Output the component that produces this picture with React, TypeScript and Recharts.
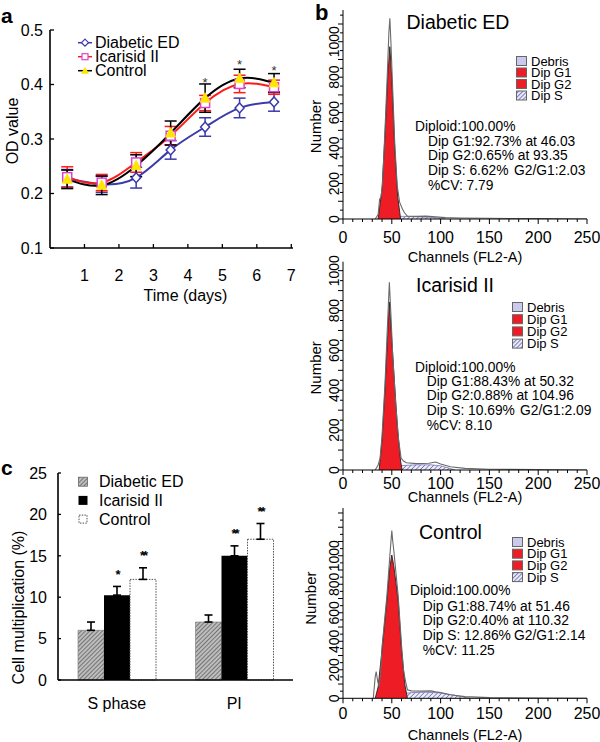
import React from 'react';
import { LineChart, Line, XAxis, YAxis, ErrorBar, Legend, ComposedChart, Area, BarChart, Bar, LabelList } from 'recharts';

const FONT = 'Arial, "Liberation Sans", Helvetica, sans-serif';

// ---------------- Panel a : OD value over time ----------------
const days = [0.5, 1.5, 2.5, 3.5, 4.5, 5.5, 6.5];
const dayTicks = [1, 2, 3, 4, 5, 6, 7];
const odTicks = [0.1, 0.2, 0.3, 0.4, 0.5];
const dedOD = [0.228, 0.217, 0.229, 0.28, 0.322, 0.357, 0.368];
const dedErr = [0.016, 0.015, 0.019, 0.017, 0.017, 0.018, 0.017];
const icaOD = [0.23, 0.22, 0.257, 0.306, 0.366, 0.401, 0.395];
const icaErr = [0.019, 0.015, 0.018, 0.017, 0.014, 0.016, 0.013];
const conOD = [0.226, 0.215, 0.251, 0.311, 0.375, 0.411, 0.403];
const conErr = [0.017, 0.017, 0.02, 0.022, 0.026, 0.017, 0.017];
const odStars = [null, null, null, null, 0.41, 0.443, 0.431];
const groupNames = ['Diabetic ED', 'Icarisid II', 'Control'];

const BLUE = '#3a3aaa';
const RED = '#ff1a1a';
const PINK = '#dd44cc';
const YELLOW = '#ffe600';

const odData = days.map((d, i) => ({
  day: d,
  ded: dedOD[i], dedE: dedErr[i],
  ica: icaOD[i], icaE: icaErr[i],
  con: conOD[i], conE: conErr[i],
  star: odStars[i],
}));

// ---------------- Panel b : DNA histograms ----------------
const channelTicks = [0, 10, 20, 30, 40, 50, 60, 70, 80, 90, 100, 110, 120, 130, 140, 150, 160, 170, 180, 190, 200, 210, 220, 230, 240, 250];
const countTicks = [0, 50, 100, 150, 200, 250, 300, 350, 400, 450, 500, 550, 600, 650, 700, 750, 800, 850, 900, 950, 1000, 1050, 1100, 1150, 1200, 1250, 1300];
const histLegendNames = ['Debris', 'Dip G1', 'Dip G2', 'Dip S'];

const dedHistTotal: [number, number][] = [[33, 0], [36, 25], [37.5, 110], [39, 126], [40.5, 200], [43, 500], [45.5, 830], [47, 1050], [48, 1132], [49, 1010], [51, 720], [53, 430], [55.5, 190], [58, 95], [61, 55], [63, 35], [66, 16], [75, 15], [85, 16], [95, 12], [105, 8], [120, 6], [150, 4], [200, 2], [250, 0]];
const dedHistG1: [number, number][] = [[36, 0], [40, 170], [43, 470], [46, 820], [48, 972], [50, 790], [53, 400], [56, 130], [59, 0]];
const dedHistS: [number, number][] = [[45, 0], [50, 10], [60, 15], [75, 13], [90, 9], [100, 4], [105, 0]];

const icaHistTotal: [number, number][] = [[33, 0], [36, 25], [38, 60], [40, 170], [43, 430], [45.5, 720], [47.5, 942], [49, 790], [51, 570], [54, 330], [57, 150], [59.5, 60], [62, 45], [65, 36], [75, 32], [88, 34], [95, 40], [100, 30], [110, 16], [125, 8], [150, 4], [200, 2], [250, 0]];
const icaHistG1: [number, number][] = [[37, 0], [40, 150], [43, 400], [45.5, 650], [47.5, 843], [50, 650], [53, 420], [56, 200], [59, 45], [60.5, 0]];
const icaHistS: [number, number][] = [[45, 0], [50, 12], [60, 22], [75, 26], [90, 26], [100, 21], [108, 10], [115, 0]];

const conHistTotal: [number, number][] = [[31, 0], [33, 150], [34, 187], [35.5, 120], [37, 82], [38.5, 170], [40, 360], [45, 720], [48, 1000], [50, 1176], [51, 1100], [52, 1040], [56.5, 720], [60, 370], [62, 200], [64, 120], [66, 60], [70, 52], [80, 50], [90, 52], [95, 45], [100, 40], [110, 25], [125, 12], [150, 5], [200, 2], [250, 0]];
const conHistG1: [number, number][] = [[33, 0], [36, 80], [40, 340], [45, 690], [48, 920], [50, 1005], [52, 930], [56.5, 690], [60, 340], [63.5, 90], [66, 0]];
const conHistS: [number, number][] = [[45, 0], [50, 15], [60, 30], [70, 40], [85, 42], [100, 38], [115, 20], [130, 0]];

const dedStats = ['Diploid:100.00%', 'Dip G1:92.73% at 46.03', 'Dip G2:0.65% at 93.35', 'Dip S: 6.62%', '%CV: 7.79'];
const dedRatio = 'G2/G1:2.03';
const icaStats = ['Diploid:100.00%', 'Dip G1:88.43% at 50.32', 'Dip G2:0.88% at 104.96', 'Dip S: 10.69%', '%CV: 8.10'];
const icaRatio = 'G2/G1:2.09';
const conStats = ['Diploid:100.00%', 'Dip G1:88.74% at 51.46', 'Dip G2:0.40% at 110.32', 'Dip S: 12.86%', '%CV: 11.25'];
const conRatio = 'G2/G1:2.14';

// ---------------- Panel c : cell multiplication ----------------
const phaseCats = ['S phase', 'PI'];
const cDed = [6.0, 7.0];
const cDedErr = [1.0, 0.85];
const cIca = [10.25, 15.0];
const cIcaErr = [1.05, 1.2];
const cCon = [12.15, 17.0];
const cConErr = [1.4, 1.9];
const cDedMarks = ['', ''];
const cIcaMarks = ['*', '**'];
const cConMarks = ['**', '**'];
const pctTicks = [0, 5, 10, 15, 20, 25];

const barData = phaseCats.map((c, i) => ({
  cat: c,
  ded: cDed[i], dedE: [0, cDedErr[i]],
  ica: cIca[i], icaE: [0, cIcaErr[i]],
  con: cCon[i], conE: [0, cConErr[i]],
}));

function mergeSeries(series: Record<string, [number, number][]>) {
  const map = new Map<number, any>();
  Object.entries(series).forEach(([key, pts]) => {
    pts.forEach(([ch, n]) => {
      const row = map.get(ch) || { ch };
      row[key] = n;
      map.set(ch, row);
    });
  });
  return Array.from(map.values()).sort((a, b) => a.ch - b.ch);
}

// ---------------- tick components ----------------
const XTickA = (p: any) => {
  const { x, y, payload } = p;
  return (
    <g>
      <line x1={x} x2={x} y1={y} y2={y - 4} stroke="#000" strokeWidth={1.3} />
      <text x={x} y={y + 33} textAnchor="middle" fontSize={16} fontFamily={FONT} fill="#000">{payload.value}</text>
    </g>
  );
};
const YTickA = (p: any) => {
  const { x, y, payload } = p;
  return (
    <g>
      <line x1={x} x2={x + 4} y1={y} y2={y} stroke="#000" strokeWidth={1.3} />
      <text x={x - 7} y={y} dy="0.36em" textAnchor="end" fontSize={16} fontFamily={FONT} fill="#000">{Number(payload.value).toFixed(1)}</text>
    </g>
  );
};
const HistXTick = (p: any) => {
  const { x, y, payload, labelOff } = p;
  const major = payload.value % 50 === 0;
  return (
    <g>
      <line x1={x} x2={x} y1={y} y2={y + (major ? 5 : 3)} stroke="#000" strokeWidth={1} />
      {major ? <text x={x} y={y + labelOff} textAnchor="middle" fontSize={16} fontFamily={FONT} fill="#000">{payload.value}</text> : null}
    </g>
  );
};
const HistYTick = (p: any) => {
  const { x, y, payload } = p;
  const v = payload.value;
  const major = v % 200 === 0 && v <= 1000;
  const cx = x - 9;
  return (
    <g>
      <line x1={x - (v % 100 === 0 ? 5 : 3)} x2={x} y1={y} y2={y} stroke="#000" strokeWidth={1} />
      {major ? (
        <text x={cx} y={y} dy="0.35em" transform={`rotate(-90 ${cx} ${y})`} textAnchor="middle" fontSize={14} fontFamily={FONT} fill="#000">{v}</text>
      ) : null}
    </g>
  );
};
const XTickC = (p: any) => {
  const { x, y, payload } = p;
  return <text x={x} y={y + 29} textAnchor="middle" fontSize={16} fontFamily={FONT} fill="#000">{payload.value}</text>;
};
const XTickBoundary = (p: any) => {
  const { x, y } = p;
  return <line x1={x} x2={x} y1={y} y2={y - 4} stroke="#000" strokeWidth={1.3} />;
};
const YTickC = (p: any) => {
  const { x, y, payload } = p;
  return (
    <g>
      <line x1={x} x2={x + 3} y1={y} y2={y} stroke="#000" strokeWidth={1.3} />
      <text x={x - 11} y={y} dy="0.36em" textAnchor="end" fontSize={16} fontFamily={FONT} fill="#000">{payload.value}</text>
    </g>
  );
};

// ---------------- dots ----------------
const DiamondDot = (p: any) => {
  const { cx, cy, index } = p;
  if (cx == null || cy == null) return <g key={'dd' + index} />;
  return <path key={'dd' + index} d={`M${cx},${cy - 5}L${cx + 4.5},${cy}L${cx},${cy + 5}L${cx - 4.5},${cy}Z`} fill="#fff" stroke={BLUE} strokeWidth={1.5} />;
};
const SquareDot = (p: any) => {
  const { cx, cy, index } = p;
  if (cx == null || cy == null) return <g key={'sd' + index} />;
  return <rect key={'sd' + index} x={cx - 4.5} y={cy - 4.5} width={9} height={9} fill="#fff" stroke={PINK} strokeWidth={1.5} />;
};
const TriDot = (p: any) => {
  const { cx, cy, index } = p;
  if (cx == null || cy == null) return <g key={'td' + index} />;
  return <path key={'td' + index} d={`M${cx},${cy - 5.5}L${cx + 5},${cy + 4}L${cx - 5},${cy + 4}Z`} fill={YELLOW} stroke={YELLOW} strokeWidth={0.8} />;
};
const StarDot = (p: any) => {
  const { cx, cy, index, value } = p;
  if (cx == null || cy == null || value == null) return <g key={'st' + index} />;
  return <text key={'st' + index} x={cx} y={cy + 7.5} textAnchor="middle" fontSize={13} fontFamily={FONT} fill="#333">*</text>;
};

// ---------------- legends ----------------
const LegendA = () => (
  <svg width={130} height={48} style={{ overflow: 'visible' }}>
    {groupNames.map((n, i) => {
      const y = 8.7 + i * 14;
      const col = [BLUE, RED, '#000'][i];
      return (
        <g key={n}>
          <line x1={4} x2={18} y1={y} y2={y} stroke={col} strokeWidth={1.5} />
          {i === 0 ? <path d={`M11,${y - 3.5}L14.5,${y}L11,${y + 3.5}L7.5,${y}Z`} fill="#fff" stroke={BLUE} strokeWidth={1.2} /> : null}
          {i === 1 ? <rect x={8} y={y - 3} width={6} height={6} fill="#fff" stroke={PINK} strokeWidth={1.2} /> : null}
          {i === 2 ? <path d={`M11,${y - 4}L15,${y + 3}L7,${y + 3}Z`} fill={YELLOW} /> : null}
          <text x={21} y={y} dy="0.36em" fontSize={16} fontFamily={FONT} fill="#000">{n}</text>
        </g>
      );
    })}
  </svg>
);

const HistLegend = ({ pid, gap }: { pid: string; gap: number }) => (
  <svg width={72} height={50} style={{ overflow: 'visible' }}>
    <defs>
      <pattern id={'lh' + pid} width={3} height={3} patternUnits="userSpaceOnUse" patternTransform="rotate(45)">
        <rect width={3} height={3} fill="#e8e8f6" />
        <line x1={0} y1={0} x2={0} y2={3} stroke="#5050a8" strokeWidth={1.4} />
      </pattern>
    </defs>
    {histLegendNames.map((n, i) => {
      const y = 6 + i * gap;
      const fill = i === 0 ? '#cacaec' : i === 3 ? `url(#lh${pid})` : '#ee1c24';
      return (
        <g key={n}>
          <rect x={0.5} y={y - 4.5} width={10} height={9} fill={fill} stroke="#666" strokeWidth={1} />
          <text x={15} y={y} dy="0.35em" fontSize={13} fontFamily={FONT} fill="#000">{n}</text>
        </g>
      );
    })}
  </svg>
);

const LegendC = () => (
  <svg width={120} height={58} style={{ overflow: 'visible' }}>
    <defs>
      <pattern id="lgHatchC" width={3} height={3} patternUnits="userSpaceOnUse" patternTransform="rotate(45)">
        <rect width={3} height={3} fill="#bdbdbd" />
        <line x1={0} y1={0} x2={0} y2={3} stroke="#444" strokeWidth={1.2} />
      </pattern>
    </defs>
    {groupNames.map((n, i) => {
      const y = 9.7 + i * 18.7;
      return (
        <g key={n}>
          {i === 0 ? <rect x={2.5} y={y - 4.5} width={9} height={9} fill="url(#lgHatchC)" stroke="#666" strokeWidth={0.8} /> : null}
          {i === 1 ? <rect x={2.5} y={y - 4.5} width={9} height={9} fill="#000" /> : null}
          {i === 2 ? <rect x={3} y={y - 4} width={8} height={8} fill="#fff" stroke="#555" strokeWidth={1} strokeDasharray="1.5 1.2" /> : null}
          <text x={23} y={y} dy="0.36em" fontSize={16} fontFamily={FONT} fill="#000">{n}</text>
        </g>
      );
    })}
  </svg>
);

// ---------------- histogram panel ----------------
type HistCfg = {
  id: string; top: number; height: number; mt: number; xh: number; yMax: number;
  total: [number, number][]; g1: [number, number][]; s: [number, number][];
  title: string; titleX: number; titleY: number;
  stats: string[]; ratio: string; sx0: number; sx1: number; sy0: number; sy1: number; sdy: number; ratioX: number;
  legLeft: number; legTop: number; legGap: number;
  tickOff: number; chanOff: number; numX: number; numDy: number;
  letter?: boolean;
};

function Histogram({ c }: { c: HistCfg }) {
  const data = mergeSeries({ total: c.total, g1: c.g1, s: c.s });
  const yTicks = countTicks.filter((v) => v <= c.yMax);
  return (
    <div style={{ position: 'absolute', left: 300, top: c.top, width: 300, height: c.height }}>
      <ComposedChart width={300} height={c.height} data={data} margin={{ top: c.mt, right: 13, left: 0, bottom: 0 }}>
        <defs>
          <pattern id={'hs' + c.id} width={3.2} height={3.2} patternUnits="userSpaceOnUse" patternTransform="rotate(45)">
            <rect width={3.2} height={3.2} fill="#eeeef8" />
            <line x1={0} y1={0} x2={0} y2={3.2} stroke="#5a5ab0" strokeWidth={1.3} />
          </pattern>
        </defs>
        <XAxis
          dataKey="ch" type="number" domain={[0, 250]} ticks={channelTicks} interval={0}
          tickSize={0} tickMargin={0} tickLine={false} height={c.xh}
          axisLine={{ stroke: '#000', strokeWidth: 1 }}
          tick={<HistXTick labelOff={c.tickOff} />}
          label={{
            value: 'Channels (FL2-A)',
            content: (p: any) => {
              const vb = p.viewBox || {};
              return <text x={vb.x + vb.width / 2} y={vb.y + c.chanOff} textAnchor="middle" fontSize={14.5} fontFamily={FONT} fill="#000">Channels (FL2-A)</text>;
            },
          }}
        />
        <YAxis
          type="number" domain={[0, c.yMax]} ticks={yTicks} interval={0} width={43}
          tickSize={0} tickMargin={0} tickLine={false}
          axisLine={{ stroke: '#000', strokeWidth: 1 }}
          tick={<HistYTick />}
          allowDataOverflow
          label={{
            value: 'Number',
            content: (p: any) => {
              const vb = p.viewBox || {};
              const cy = vb.y + vb.height / 2 + c.numDy;
              return <text x={c.numX} y={cy} dy="0.35em" transform={`rotate(-90 ${c.numX} ${cy})`} textAnchor="middle" fontSize={15} fontFamily={FONT} fill="#000">Number</text>;
            },
          }}
        />
        <Area dataKey="s" type="linear" connectNulls fill={`url(#hs${c.id})`} fillOpacity={1} stroke="#7777bb" strokeWidth={0.8} dot={false} activeDot={false} isAnimationActive={false} />
        <Area dataKey="g1" type="linear" connectNulls fill="#ee1c24" fillOpacity={1} stroke="#222" strokeWidth={0.9} dot={false} activeDot={false} isAnimationActive={false} />
        <Line dataKey="total" type="linear" connectNulls stroke="#6a6a6a" strokeWidth={1.1} dot={false} activeDot={false} isAnimationActive={false} />
        <Legend
          layout="vertical" verticalAlign="middle" align="center"
          content={() => <HistLegend pid={c.id} gap={c.legGap} />}
          wrapperStyle={{ left: c.legLeft, top: c.legTop, width: 72, height: 50 }}
        />
        {c.letter ? <text x={15} y={20} fontSize={22} fontWeight="bold" fontFamily={FONT} fill="#000">b</text> : null}
        <text x={c.titleX} y={c.titleY} fontSize={19.5} fontFamily={FONT} fill="#000">{c.title}</text>
        <text x={c.sx0} y={c.sy0} fontSize={13.8} fontFamily={FONT} fill="#000">{c.stats[0]}</text>
        {c.stats.slice(1).map((s, i) => (
          <text key={s} x={c.sx1} y={c.sy1 + i * c.sdy} fontSize={13.8} fontFamily={FONT} fill="#000">{s}</text>
        ))}
        <text x={c.ratioX} y={c.sy1 + 2 * c.sdy} fontSize={13.8} fontFamily={FONT} fill="#000">{c.ratio}</text>
      </ComposedChart>
    </div>
  );
}

const histConfigs: HistCfg[] = [
  {
    id: 'h1', top: 0, height: 266, mt: 10, xh: 47, yMax: 1179,
    total: dedHistTotal, g1: dedHistG1, s: dedHistS,
    title: 'Diabetic ED', titleX: 106.5, titleY: 28.5,
    stats: dedStats, ratio: dedRatio, sx0: 115, sx1: 128, sy0: 131, sy1: 145.5, sdy: 14.7, ratioX: 214,
    legLeft: 216, legTop: 55, legGap: 11.5,
    tickOff: 23.5, chanOff: 42.5, numX: 16, numDy: 12, letter: true,
  },
  {
    id: 'h2', top: 250, height: 258, mt: 11.7, xh: 38, yMax: 1045,
    total: icaHistTotal, g1: icaHistG1, s: icaHistS,
    title: 'Icarisid II', titleX: 116, titleY: 42,
    stats: icaStats, ratio: icaRatio, sx0: 115, sx1: 126.7, sy0: 121.7, sy1: 135.5, sdy: 14.7, ratioX: 220,
    legLeft: 212, legTop: 51, legGap: 12.2,
    tickOff: 19, chanOff: 31.7, numX: 16, numDy: 2,
  },
  {
    id: 'h3', top: 495, height: 247, mt: 13, xh: 43.7, yMax: 1335,
    total: conHistTotal, g1: conHistG1, s: conHistS,
    title: 'Control', titleX: 119, titleY: 44,
    stats: conStats, ratio: conRatio, sx0: 110, sx1: 122.7, sy0: 100, sy1: 115.5, sdy: 14.7, ratioX: 214,
    legLeft: 212, legTop: 41, legGap: 11.7,
    tickOff: 20.7, chanOff: 41.7, numX: 11, numDy: -5,
  },
];

const starLabel = (marks: string[], errs: number[]) => (p: any) => {
  const { x, y, width, height, value, index } = p;
  const m = marks[index];
  if (!m || !value) return null;
  const ppu = height / value;
  const cy = y - errs[index] * ppu - 15;
  return <text x={x + width / 2} y={cy + 7.5} textAnchor="middle" fontSize={13} fontWeight="bold" letterSpacing={-2} fontFamily={FONT} fill="#000">{m}</text>;
};

export default function App() {
  return (
    <div style={{ position: 'absolute', left: 0, top: 0, width: 600, height: 742, background: '#fff', fontFamily: FONT, overflow: 'hidden' }}>
      {/* Panel a */}
      <div style={{ position: 'absolute', left: 0, top: 0, width: 300, height: 310 }}>
        <LineChart width={300} height={310} data={odData} margin={{ top: 30, right: 7, left: 0, bottom: 0 }}>
          <XAxis
            dataKey="day" type="number" domain={[0, 7.05]} ticks={dayTicks} interval={0} allowDataOverflow
            height={62} tickSize={0} tickMargin={0} tickLine={false}
            axisLine={{ stroke: '#000', strokeWidth: 1.6 }} tick={<XTickA />}
            label={{
              value: 'Time (days)',
              content: (p: any) => {
                const vb = p.viewBox || {};
                return <text x={vb.x + vb.width / 2 + 14} y={vb.y + 53} textAnchor="middle" fontSize={16} fontFamily={FONT} fill="#000">Time (days)</text>;
              },
            }}
          />
          <YAxis
            type="number" domain={[0.1, 0.5]} ticks={odTicks} interval={0} width={50}
            tickSize={0} tickMargin={0} tickLine={false}
            axisLine={{ stroke: '#000', strokeWidth: 1.6 }} tick={<YTickA />}
            label={{
              value: 'OD value',
              content: (p: any) => {
                const vb = p.viewBox || {};
                const cy = vb.y + vb.height / 2 - 8;
                return <text x={12} y={cy} dy="0.35em" transform={`rotate(-90 12 ${cy})`} textAnchor="middle" fontSize={16} fontFamily={FONT} fill="#000">OD value</text>;
              },
            }}
          />
          <Line dataKey="ded" type="natural" stroke={BLUE} strokeWidth={2} dot={DiamondDot} activeDot={false} isAnimationActive={false}>
            <ErrorBar dataKey="dedE" width={6} stroke={BLUE} strokeWidth={1.5} direction="y" />
          </Line>
          <Line dataKey="ica" type="natural" stroke={RED} strokeWidth={2} dot={SquareDot} activeDot={false} isAnimationActive={false}>
            <ErrorBar dataKey="icaE" width={6} stroke={RED} strokeWidth={1.5} direction="y" />
          </Line>
          <Line dataKey="con" type="natural" stroke="#000" strokeWidth={2} dot={TriDot} activeDot={false} isAnimationActive={false}>
            <ErrorBar dataKey="conE" width={6} stroke="#000" strokeWidth={1.5} direction="y" />
          </Line>
          <Line dataKey="star" stroke="none" dot={StarDot} activeDot={false} isAnimationActive={false} legendType="none" />
          <Legend
            layout="vertical" verticalAlign="middle" align="center"
            content={() => <LegendA />}
            wrapperStyle={{ left: 74, top: 34, width: 130, height: 48 }}
          />
          <text x={1} y={23} fontSize={21} fontWeight="bold" fontFamily={FONT} fill="#000">a</text>
        </LineChart>
      </div>

      {/* Panel b */}
      {histConfigs.map((c) => <Histogram key={c.id} c={c} />)}

      {/* Panel c */}
      <div style={{ position: 'absolute', left: 0, top: 440, width: 300, height: 302 }}>
        <BarChart width={300} height={302} data={barData} margin={{ top: 33, right: 7, left: 0, bottom: 0 }} barGap={0} barSize={26}>
          <defs>
            <pattern id="hatchC" width={3} height={3} patternUnits="userSpaceOnUse" patternTransform="rotate(45)">
              <rect width={3} height={3} fill="#bdbdbd" />
              <line x1={0} y1={0} x2={0} y2={3} stroke="#444" strokeWidth={1.2} />
            </pattern>
          </defs>
          <XAxis xAxisId="bnd" type="number" domain={[0, 2]} ticks={[1, 2]} height={0} tickSize={0} tickMargin={0} tickLine={false} axisLine={false} tick={<XTickBoundary />} interval={0} />
          <XAxis xAxisId="cat" dataKey="cat" height={62} tickSize={0} tickMargin={0} tickLine={false} axisLine={{ stroke: '#000', strokeWidth: 1.6 }} tick={<XTickC />} interval={0} />
          <YAxis
            type="number" domain={[0, 25]} ticks={pctTicks} interval={0} width={58}
            tickSize={0} tickMargin={0} tickLine={false}
            axisLine={{ stroke: '#000', strokeWidth: 1.6 }} tick={<YTickC />}
            label={{
              value: 'Cell multiplication (%)',
              content: (p: any) => {
                const vb = p.viewBox || {};
                const cy = vb.y + vb.height / 2 + 31;
                return <text x={18} y={cy} dy="0.35em" transform={`rotate(-90 18 ${cy})`} textAnchor="middle" fontSize={16} fontFamily={FONT} fill="#000">Cell multiplication (%)</text>;
              },
            }}
          />
          <Bar xAxisId="cat" dataKey="ded" fill="url(#hatchC)" stroke="#777" strokeWidth={0.6} isAnimationActive={false}>
            <ErrorBar dataKey="dedE" width={4} stroke="#000" strokeWidth={1.6} direction="y" />
            <LabelList dataKey="ded" content={starLabel(cDedMarks, cDedErr)} />
          </Bar>
          <Bar xAxisId="cat" dataKey="ica" fill="#000" isAnimationActive={false}>
            <ErrorBar dataKey="icaE" width={4} stroke="#000" strokeWidth={1.6} direction="y" />
            <LabelList dataKey="ica" content={starLabel(cIcaMarks, cIcaErr)} />
          </Bar>
          <Bar xAxisId="cat" dataKey="con" fill="#fff" stroke="#555" strokeWidth={1} strokeDasharray="1.5 1.2" isAnimationActive={false}>
            <ErrorBar dataKey="conE" width={4} stroke="#000" strokeWidth={1.6} direction="y" />
            <LabelList dataKey="con" content={starLabel(cConMarks, cConErr)} />
          </Bar>
          <Legend
            layout="vertical" verticalAlign="middle" align="center"
            content={() => <LegendC />}
            wrapperStyle={{ left: 76, top: 32, width: 120, height: 58 }}
          />
          <text x={1} y={35} fontSize={21} fontWeight="bold" fontFamily={FONT} fill="#000">c</text>
        </BarChart>
      </div>
    </div>
  );
}
